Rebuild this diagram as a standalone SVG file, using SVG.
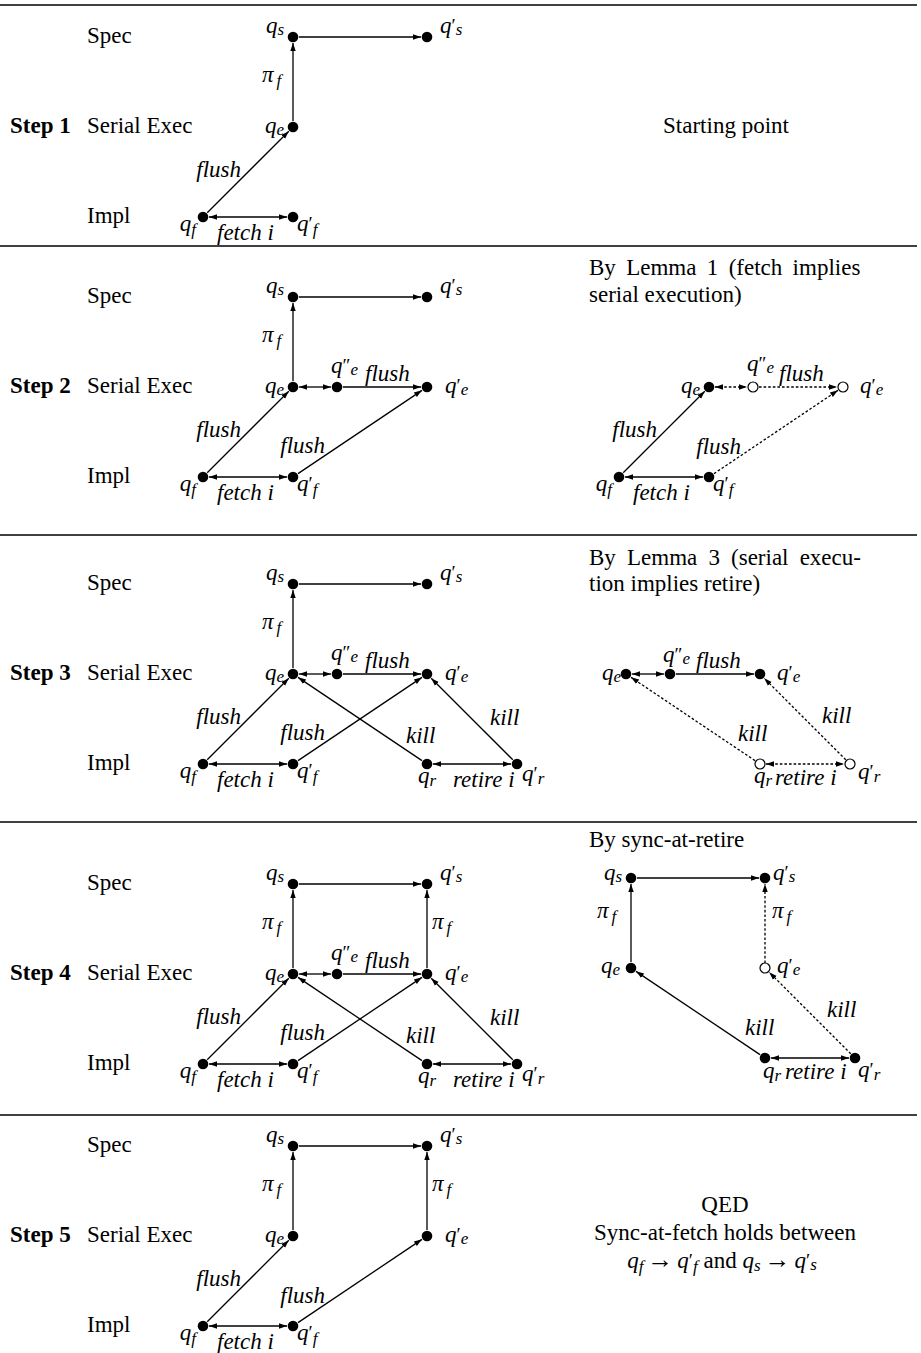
<svg xmlns="http://www.w3.org/2000/svg" width="921" height="1353" viewBox="0 0 921 1353">
<style>
text{font-family:"Liberation Serif","Times New Roman",serif;font-size:23px;fill:#000}
.m{font-style:italic}
.b{font-weight:bold}
.sb{font-size:17px}
.pr{font-size:19px;font-style:normal}
.c{stroke:#000;stroke-width:1.3;fill:none}
.a{marker-end:url(#ah)}
.aa{marker-start:url(#ah);marker-end:url(#ah)}
.dt{stroke-dasharray:2.6 2}
.n{fill:#000}
.o{fill:#fff;stroke:#000;stroke-width:1.2}
.sep{stroke:#000;stroke-width:1.6}
</style>
<defs>
<marker id="ah" markerUnits="userSpaceOnUse" markerWidth="10" markerHeight="8" refX="8" refY="4" orient="auto-start-reverse" viewBox="0 0 10 8"><path d="M0,1.3 L8,4 L0,6.7 z" fill="#000"/></marker>
</defs>
<rect width="921" height="1353" fill="#fff"/>
<g id="separators">
<line class="sep" x1="0" y1="5" x2="917" y2="5"/>
<line class="sep" x1="0" y1="246" x2="917" y2="246"/>
<line class="sep" x1="0" y1="535" x2="917" y2="535"/>
<line class="sep" x1="0" y1="822" x2="917" y2="822"/>
<line class="sep" x1="0" y1="1115" x2="917" y2="1115"/>
</g>

<!-- STEP 1 -->
<g id="step1">
<g id="s1-rows"><text class="b" x="10" y="133">Step 1</text><text x="87" y="43">Spec</text><text x="87" y="133">Serial Exec</text><text x="87" y="223">Impl</text></g>
<g id="s1-connectors">
<line class="c a" x1="299" y1="37" x2="421" y2="37"/>
<line class="c a" x1="293" y1="121" x2="293" y2="43"/>
<line class="c a" x1="207.2" y1="212.8" x2="288.8" y2="131.2"/>
<line class="c aa" x1="209" y1="217" x2="287" y2="217"/>
<text class="m" x="262" y="82">π<tspan class="sb" dx="3" dy="4">f</tspan></text>
<text class="m" x="241" y="177" text-anchor="end">flush</text>
<text class="m" x="217" y="240">fetch i</text>
</g>
<g id="s1-qs"><circle class="n" cx="293" cy="37" r="5.3"/><text class="m" x="284" y="33" text-anchor="end">q<tspan class="sb" dy="2">s</tspan></text></g>
<g id="s1-qs2"><circle class="n" cx="427" cy="37" r="5.3"/><text class="m" x="440" y="33">q<tspan class="pr" dy="-1">′</tspan><tspan class="sb" dy="3">s</tspan></text></g>
<g id="s1-qe"><circle class="n" cx="293" cy="127" r="5.3"/><text class="m" x="284" y="133" text-anchor="end">q<tspan class="sb" dy="2">e</tspan></text></g>
<g id="s1-qf"><circle class="n" cx="203" cy="217" r="5.3"/><text class="m" x="196" y="231" text-anchor="end">q<tspan class="sb" dy="4">f</tspan></text></g>
<g id="s1-qf2"><circle class="n" cx="293" cy="217" r="5.3"/><text class="m" x="297" y="231">q<tspan class="pr" dy="-1">′</tspan><tspan class="sb" dy="5">f</tspan></text></g>
<g id="s1-note"><text x="726" y="133" text-anchor="middle">Starting point</text></g>
</g>

<!-- STEP 2 -->
<g id="step2">
<g id="s2-rows"><text class="b" x="10" y="393">Step 2</text><text x="87" y="303">Spec</text><text x="87" y="393">Serial Exec</text><text x="87" y="483">Impl</text></g>
<g id="s2-note"><text x="589" y="275" word-spacing="4.6">By Lemma 1 (fetch implies</text><text x="589" y="302">serial execution)</text></g>
<g transform="translate(0,260)">
<g id="s2-connectors">
<line class="c a" x1="299" y1="37" x2="421" y2="37"/>
<line class="c a" x1="293" y1="121" x2="293" y2="43"/>
<line class="c a" x1="207.2" y1="212.8" x2="288.8" y2="131.2"/>
<line class="c aa" x1="209" y1="217" x2="287" y2="217"/>
<line class="c aa" x1="299" y1="127" x2="331" y2="127"/>
<line class="c a" x1="343" y1="127" x2="421" y2="127"/>
<line class="c a" x1="298" y1="213.65" x2="422" y2="130.35"/>
<text class="m" x="262" y="82">π<tspan class="sb" dx="3" dy="4">f</tspan></text>
<text class="m" x="241" y="177" text-anchor="end">flush</text>
<text class="m" x="217" y="240">fetch i</text>
<text class="m" x="365" y="121">flush</text>
<text class="m" x="325" y="193" text-anchor="end">flush</text>
</g>
<g id="s2-qs"><circle class="n" cx="293" cy="37" r="5.3"/><text class="m" x="284" y="33" text-anchor="end">q<tspan class="sb" dy="2">s</tspan></text></g>
<g id="s2-qs2"><circle class="n" cx="427" cy="37" r="5.3"/><text class="m" x="440" y="33">q<tspan class="pr" dy="-1">′</tspan><tspan class="sb" dy="3">s</tspan></text></g>
<g id="s2-qe"><circle class="n" cx="293" cy="127" r="5.3"/><text class="m" x="284" y="133" text-anchor="end">q<tspan class="sb" dy="2">e</tspan></text></g>
<g id="s2-qe3"><circle class="n" cx="337" cy="127" r="5.3"/><text class="m" x="331" y="113">q<tspan class="pr" dy="-1">″</tspan><tspan class="sb" dy="3">e</tspan></text></g>
<g id="s2-qe2"><circle class="n" cx="427" cy="127" r="5.3"/><text class="m" x="445" y="133">q<tspan class="pr" dy="-1">′</tspan><tspan class="sb" dy="3">e</tspan></text></g>
<g id="s2-qf"><circle class="n" cx="203" cy="217" r="5.3"/><text class="m" x="196" y="231" text-anchor="end">q<tspan class="sb" dy="4">f</tspan></text></g>
<g id="s2-qf2"><circle class="n" cx="293" cy="217" r="5.3"/><text class="m" x="297" y="231">q<tspan class="pr" dy="-1">′</tspan><tspan class="sb" dy="5">f</tspan></text></g>
</g>
<g transform="translate(416,260)">
<g id="s2r-connectors">
<line class="c a" x1="207.2" y1="212.8" x2="288.8" y2="131.2"/>
<line class="c aa" x1="209" y1="217" x2="287" y2="217"/>
<line class="c aa dt" x1="299" y1="127" x2="331" y2="127"/>
<line class="c a dt" x1="343" y1="127" x2="421" y2="127"/>
<line class="c a dt" x1="298" y1="213.65" x2="422" y2="130.35"/>
<text class="m" x="241" y="177" text-anchor="end">flush</text>
<text class="m" x="217" y="240">fetch i</text>
<text class="m" x="363" y="121">flush</text>
<text class="m" x="325" y="194" text-anchor="end">flush</text>
</g>
<g id="s2r-qe"><circle class="n" cx="293" cy="127" r="5.3"/><text class="m" x="284" y="133" text-anchor="end">q<tspan class="sb" dy="2">e</tspan></text></g>
<g id="s2r-qe3"><circle class="o" cx="337" cy="127" r="5"/><text class="m" x="331" y="111">q<tspan class="pr" dy="-1">″</tspan><tspan class="sb" dy="3">e</tspan></text></g>
<g id="s2r-qe2"><circle class="o" cx="427" cy="127" r="5"/><text class="m" x="444" y="133">q<tspan class="pr" dy="-1">′</tspan><tspan class="sb" dy="3">e</tspan></text></g>
<g id="s2r-qf"><circle class="n" cx="203" cy="217" r="5.3"/><text class="m" x="196" y="231" text-anchor="end">q<tspan class="sb" dy="4">f</tspan></text></g>
<g id="s2r-qf2"><circle class="n" cx="293" cy="217" r="5.3"/><text class="m" x="297" y="231">q<tspan class="pr" dy="-1">′</tspan><tspan class="sb" dy="5">f</tspan></text></g>
</g>
</g>

<!-- STEP 3 -->
<g id="step3">
<g id="s3-rows"><text class="b" x="10" y="680">Step 3</text><text x="87" y="590">Spec</text><text x="87" y="680">Serial Exec</text><text x="87" y="770">Impl</text></g>
<g id="s3-note"><text x="589" y="565" word-spacing="5.4">By Lemma 3 (serial execu-</text><text x="589" y="591">tion implies retire)</text></g>
<g transform="translate(0,547)">
<g id="s3-connectors">
<line class="c a" x1="299" y1="37" x2="421" y2="37"/>
<line class="c a" x1="293" y1="121" x2="293" y2="43"/>
<line class="c a" x1="207.2" y1="212.8" x2="288.8" y2="131.2"/>
<line class="c aa" x1="209" y1="217" x2="287" y2="217"/>
<line class="c aa" x1="299" y1="127" x2="331" y2="127"/>
<line class="c a" x1="343" y1="127" x2="421" y2="127"/>
<line class="c a" x1="298" y1="213.65" x2="422" y2="130.35"/>
<line class="c a" x1="422" y1="213.65" x2="298" y2="130.35"/>
<line class="c a" x1="512.8" y1="212.8" x2="431.2" y2="131.2"/>
<line class="c aa" x1="433" y1="217" x2="511" y2="217"/>
<text class="m" x="262" y="82">π<tspan class="sb" dx="3" dy="4">f</tspan></text>
<text class="m" x="241" y="177" text-anchor="end">flush</text>
<text class="m" x="217" y="240">fetch i</text>
<text class="m" x="365" y="121">flush</text>
<text class="m" x="325" y="193" text-anchor="end">flush</text>
<text class="m" x="406" y="196">kill</text>
<text class="m" x="490" y="178">kill</text>
<text class="m" x="453" y="240">retire i</text>
</g>
<g id="s3-qs"><circle class="n" cx="293" cy="37" r="5.3"/><text class="m" x="284" y="33" text-anchor="end">q<tspan class="sb" dy="2">s</tspan></text></g>
<g id="s3-qs2"><circle class="n" cx="427" cy="37" r="5.3"/><text class="m" x="440" y="33">q<tspan class="pr" dy="-1">′</tspan><tspan class="sb" dy="3">s</tspan></text></g>
<g id="s3-qe"><circle class="n" cx="293" cy="127" r="5.3"/><text class="m" x="284" y="133" text-anchor="end">q<tspan class="sb" dy="2">e</tspan></text></g>
<g id="s3-qe3"><circle class="n" cx="337" cy="127" r="5.3"/><text class="m" x="331" y="113">q<tspan class="pr" dy="-1">″</tspan><tspan class="sb" dy="3">e</tspan></text></g>
<g id="s3-qe2"><circle class="n" cx="427" cy="127" r="5.3"/><text class="m" x="445" y="133">q<tspan class="pr" dy="-1">′</tspan><tspan class="sb" dy="3">e</tspan></text></g>
<g id="s3-qf"><circle class="n" cx="203" cy="217" r="5.3"/><text class="m" x="196" y="231" text-anchor="end">q<tspan class="sb" dy="4">f</tspan></text></g>
<g id="s3-qf2"><circle class="n" cx="293" cy="217" r="5.3"/><text class="m" x="297" y="231">q<tspan class="pr" dy="-1">′</tspan><tspan class="sb" dy="5">f</tspan></text></g>
<g id="s3-qr"><circle class="n" cx="427" cy="217" r="5.3"/><text class="m" x="418" y="236">q<tspan class="sb" dy="3">r</tspan></text></g>
<g id="s3-qr2"><circle class="n" cx="517" cy="217" r="5.3"/><text class="m" x="522" y="234">q<tspan class="pr" dy="-1">′</tspan><tspan class="sb" dy="4">r</tspan></text></g>
</g>
<g transform="translate(333,547)">
<g id="s3r-connectors">
<line class="c aa" x1="299" y1="127" x2="331" y2="127"/>
<line class="c a" x1="343" y1="127" x2="421" y2="127"/>
<line class="c a dt" x1="422" y1="213.65" x2="298" y2="130.35"/>
<line class="c a dt" x1="512.8" y1="212.8" x2="431.2" y2="131.2"/>
<line class="c aa dt" x1="433" y1="217" x2="511" y2="217"/>
<text class="m" x="363" y="121">flush</text>
<text class="m" x="405" y="194">kill</text>
<text class="m" x="489" y="176">kill</text>
<text class="m" x="442" y="238">retire i</text>
</g>
<g id="s3r-qe"><circle class="n" cx="293" cy="127" r="5.3"/><text class="m" x="288" y="133" text-anchor="end">q<tspan class="sb" dy="2">e</tspan></text></g>
<g id="s3r-qe3"><circle class="n" cx="337" cy="127" r="5.3"/><text class="m" x="330" y="115">q<tspan class="pr" dy="-1">″</tspan><tspan class="sb" dy="3">e</tspan></text></g>
<g id="s3r-qe2"><circle class="n" cx="427" cy="127" r="5.3"/><text class="m" x="444" y="133">q<tspan class="pr" dy="-1">′</tspan><tspan class="sb" dy="3">e</tspan></text></g>
<g id="s3r-qr"><circle class="o" cx="427" cy="217" r="5"/><text class="m" x="421" y="236">q<tspan class="sb" dy="3">r</tspan></text></g>
<g id="s3r-qr2"><circle class="o" cx="517" cy="217" r="5"/><text class="m" x="525" y="232">q<tspan class="pr" dy="-1">′</tspan><tspan class="sb" dy="4">r</tspan></text></g>
</g>
</g>

<!-- STEP 4 -->
<g id="step4">
<g id="s4-rows"><text class="b" x="10" y="980">Step 4</text><text x="87" y="890">Spec</text><text x="87" y="980">Serial Exec</text><text x="87" y="1070">Impl</text></g>
<g id="s4-note"><text x="589" y="847">By sync-at-retire</text></g>
<g transform="translate(0,847)">
<g id="s4-connectors">
<line class="c a" x1="299" y1="37" x2="421" y2="37"/>
<line class="c a" x1="293" y1="121" x2="293" y2="43"/>
<line class="c a" x1="427" y1="121" x2="427" y2="43"/>
<line class="c a" x1="207.2" y1="212.8" x2="288.8" y2="131.2"/>
<line class="c aa" x1="209" y1="217" x2="287" y2="217"/>
<line class="c aa" x1="299" y1="127" x2="331" y2="127"/>
<line class="c a" x1="343" y1="127" x2="421" y2="127"/>
<line class="c a" x1="298" y1="213.65" x2="422" y2="130.35"/>
<line class="c a" x1="422" y1="213.65" x2="298" y2="130.35"/>
<line class="c a" x1="512.8" y1="212.8" x2="431.2" y2="131.2"/>
<line class="c aa" x1="433" y1="217" x2="511" y2="217"/>
<text class="m" x="262" y="82">π<tspan class="sb" dx="3" dy="4">f</tspan></text>
<text class="m" x="432" y="82">π<tspan class="sb" dx="3" dy="4">f</tspan></text>
<text class="m" x="241" y="177" text-anchor="end">flush</text>
<text class="m" x="217" y="240">fetch i</text>
<text class="m" x="365" y="121">flush</text>
<text class="m" x="325" y="193" text-anchor="end">flush</text>
<text class="m" x="406" y="196">kill</text>
<text class="m" x="490" y="178">kill</text>
<text class="m" x="453" y="240">retire i</text>
</g>
<g id="s4-qs"><circle class="n" cx="293" cy="37" r="5.3"/><text class="m" x="284" y="33" text-anchor="end">q<tspan class="sb" dy="2">s</tspan></text></g>
<g id="s4-qs2"><circle class="n" cx="427" cy="37" r="5.3"/><text class="m" x="440" y="33">q<tspan class="pr" dy="-1">′</tspan><tspan class="sb" dy="3">s</tspan></text></g>
<g id="s4-qe"><circle class="n" cx="293" cy="127" r="5.3"/><text class="m" x="284" y="133" text-anchor="end">q<tspan class="sb" dy="2">e</tspan></text></g>
<g id="s4-qe3"><circle class="n" cx="337" cy="127" r="5.3"/><text class="m" x="331" y="113">q<tspan class="pr" dy="-1">″</tspan><tspan class="sb" dy="3">e</tspan></text></g>
<g id="s4-qe2"><circle class="n" cx="427" cy="127" r="5.3"/><text class="m" x="445" y="133">q<tspan class="pr" dy="-1">′</tspan><tspan class="sb" dy="3">e</tspan></text></g>
<g id="s4-qf"><circle class="n" cx="203" cy="217" r="5.3"/><text class="m" x="196" y="231" text-anchor="end">q<tspan class="sb" dy="4">f</tspan></text></g>
<g id="s4-qf2"><circle class="n" cx="293" cy="217" r="5.3"/><text class="m" x="297" y="231">q<tspan class="pr" dy="-1">′</tspan><tspan class="sb" dy="5">f</tspan></text></g>
<g id="s4-qr"><circle class="n" cx="427" cy="217" r="5.3"/><text class="m" x="418" y="236">q<tspan class="sb" dy="3">r</tspan></text></g>
<g id="s4-qr2"><circle class="n" cx="517" cy="217" r="5.3"/><text class="m" x="522" y="234">q<tspan class="pr" dy="-1">′</tspan><tspan class="sb" dy="4">r</tspan></text></g>
</g>
<g transform="translate(338,841)">
<g id="s4r-connectors">
<line class="c a" x1="299" y1="37" x2="421" y2="37"/>
<line class="c a" x1="293" y1="121" x2="293" y2="43"/>
<line class="c a dt" x1="427" y1="122" x2="427" y2="43"/>
<line class="c a" x1="422" y1="213.65" x2="298" y2="130.35"/>
<line class="c a dt" x1="512.8" y1="212.8" x2="431.2" y2="131.2"/>
<line class="c aa" x1="433" y1="217" x2="511" y2="217"/>
<text class="m" x="259" y="77">π<tspan class="sb" dx="3" dy="4">f</tspan></text>
<text class="m" x="434" y="77">π<tspan class="sb" dx="3" dy="4">f</tspan></text>
<text class="m" x="407" y="194">kill</text>
<text class="m" x="489" y="176">kill</text>
<text class="m" x="447" y="238">retire i</text>
</g>
<g id="s4r-qs"><circle class="n" cx="293" cy="37" r="5.3"/><text class="m" x="284" y="39" text-anchor="end">q<tspan class="sb" dy="2">s</tspan></text></g>
<g id="s4r-qs2"><circle class="n" cx="427" cy="37" r="5.3"/><text class="m" x="435" y="39">q<tspan class="pr" dy="-1">′</tspan><tspan class="sb" dy="3">s</tspan></text></g>
<g id="s4r-qe"><circle class="n" cx="293" cy="127" r="5.3"/><text class="m" x="282" y="132" text-anchor="end">q<tspan class="sb" dy="2">e</tspan></text></g>
<g id="s4r-qe2"><circle class="o" cx="427" cy="127" r="5"/><text class="m" x="439" y="132">q<tspan class="pr" dy="-1">′</tspan><tspan class="sb" dy="3">e</tspan></text></g>
<g id="s4r-qr"><circle class="n" cx="427" cy="217" r="5.3"/><text class="m" x="425" y="237">q<tspan class="sb" dy="3">r</tspan></text></g>
<g id="s4r-qr2"><circle class="n" cx="517" cy="217" r="5.3"/><text class="m" x="520" y="236">q<tspan class="pr" dy="-1">′</tspan><tspan class="sb" dy="4">r</tspan></text></g>
</g>
</g>

<!-- STEP 5 -->
<g id="step5">
<g id="s5-rows"><text class="b" x="10" y="1242">Step 5</text><text x="87" y="1152">Spec</text><text x="87" y="1242">Serial Exec</text><text x="87" y="1332">Impl</text></g>
<g id="s5-note">
<text x="725" y="1212" text-anchor="middle">QED</text>
<text x="725" y="1240" text-anchor="middle">Sync-at-fetch holds between</text>
<text x="722" y="1268" text-anchor="middle"><tspan class="m">q</tspan><tspan class="m sb" dy="4">f</tspan><tspan dy="-4" dx="4" font-size="26">→</tspan><tspan class="m" dx="4">q</tspan><tspan class="pr" dy="-1">′</tspan><tspan class="m sb" dy="5">f</tspan><tspan dy="-4"> and </tspan><tspan class="m">q</tspan><tspan class="m sb" dy="3">s</tspan><tspan dy="-3" dx="4" font-size="26">→</tspan><tspan class="m" dx="4">q</tspan><tspan class="pr" dy="-1">′</tspan><tspan class="m sb" dy="3">s</tspan></text>
</g>
<g transform="translate(0,1109)">
<g id="s5-connectors">
<line class="c a" x1="299" y1="37" x2="421" y2="37"/>
<line class="c a" x1="293" y1="121" x2="293" y2="43"/>
<line class="c a" x1="427" y1="121" x2="427" y2="43"/>
<line class="c a" x1="207.2" y1="212.8" x2="288.8" y2="131.2"/>
<line class="c aa" x1="209" y1="217" x2="287" y2="217"/>
<line class="c a" x1="298" y1="213.65" x2="422" y2="130.35"/>
<text class="m" x="262" y="82">π<tspan class="sb" dx="3" dy="4">f</tspan></text>
<text class="m" x="432" y="82">π<tspan class="sb" dx="3" dy="4">f</tspan></text>
<text class="m" x="241" y="177" text-anchor="end">flush</text>
<text class="m" x="217" y="240">fetch i</text>
<text class="m" x="325" y="194" text-anchor="end">flush</text>
</g>
<g id="s5-qs"><circle class="n" cx="293" cy="37" r="5.3"/><text class="m" x="284" y="33" text-anchor="end">q<tspan class="sb" dy="2">s</tspan></text></g>
<g id="s5-qs2"><circle class="n" cx="427" cy="37" r="5.3"/><text class="m" x="440" y="33">q<tspan class="pr" dy="-1">′</tspan><tspan class="sb" dy="3">s</tspan></text></g>
<g id="s5-qe"><circle class="n" cx="293" cy="127" r="5.3"/><text class="m" x="284" y="133" text-anchor="end">q<tspan class="sb" dy="2">e</tspan></text></g>
<g id="s5-qe2"><circle class="n" cx="427" cy="127" r="5.3"/><text class="m" x="445" y="133">q<tspan class="pr" dy="-1">′</tspan><tspan class="sb" dy="3">e</tspan></text></g>
<g id="s5-qf"><circle class="n" cx="203" cy="217" r="5.3"/><text class="m" x="196" y="231" text-anchor="end">q<tspan class="sb" dy="4">f</tspan></text></g>
<g id="s5-qf2"><circle class="n" cx="293" cy="217" r="5.3"/><text class="m" x="297" y="231">q<tspan class="pr" dy="-1">′</tspan><tspan class="sb" dy="5">f</tspan></text></g>
</g>
</g>
</svg>
